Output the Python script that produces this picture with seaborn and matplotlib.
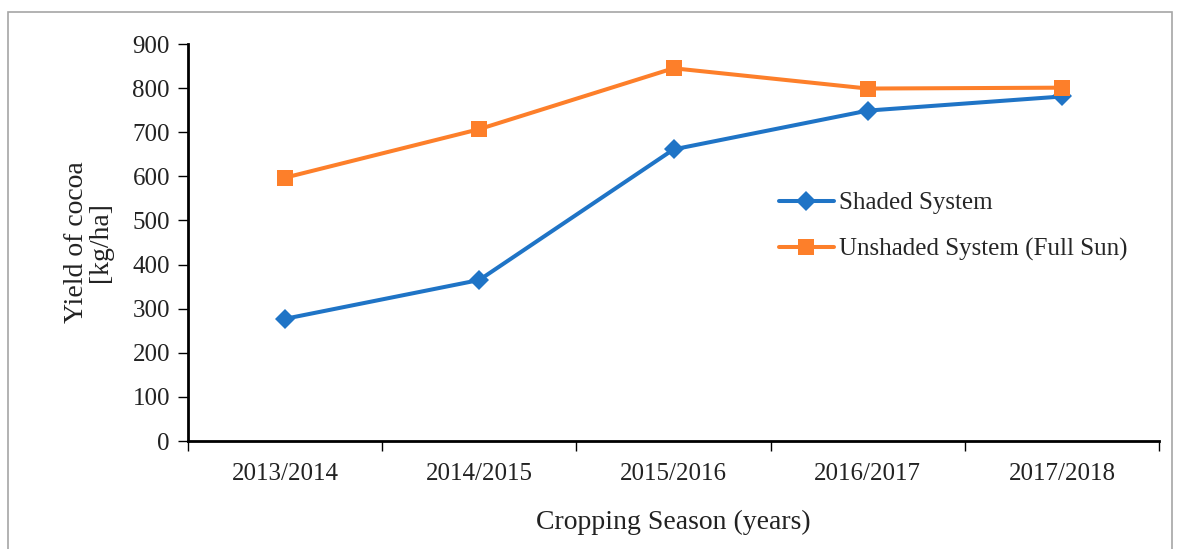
import numpy as np
import pandas as pd
import matplotlib.pyplot as plt
import seaborn as sns
from matplotlib.patches import Rectangle
from matplotlib.ticker import FixedLocator

seasons = ["2013/2014", "2014/2015", "2015/2016", "2016/2017", "2017/2018"]
shaded = [277, 365, 661, 749, 781]
unshaded = [597, 707, 845, 799, 801]
series = ["Shaded System", "Unshaded System (Full Sun)"]

df = pd.DataFrame({
    "season": seasons * 2,
    "yield": shaded + unshaded,
    "system": [series[0]] * 5 + [series[1]] * 5,
})

sns.set_style("white")
plt.rcParams['font.family'] = ['Liberation Serif', 'DejaVu Serif']

fig = plt.figure(figsize=(11.79, 5.49), dpi=100)
ax = fig.add_axes([188 / 1179, 1 - 441 / 549, (1159 - 188) / 1179, (441 - 44) / 549])

sns.lineplot(data=df, x="season", y="yield", hue="system", style="system",
             palette=["#1f74c6", "#fd7f2a"], markers=["D", "s"], dashes=False,
             markersize=10, linewidth=2.9, markeredgewidth=0, ax=ax)
# square a bit bigger than the diamond
for line in ax.get_lines():
    if line.get_marker() == "s":
        line.set_markersize(11.5)

ax.set_xlim(-0.5, 4.5)
ax.set_ylim(0, 900)
ax.set_yticks(np.arange(0, 901, 100))
ax.set_xticks(range(5))
ax.set_xticklabels(seasons)
ax.xaxis.set_minor_locator(FixedLocator(np.arange(-0.5, 4.6, 1)))
ax.tick_params(axis="x", which="major", bottom=True, length=0, pad=16, labelsize=18,
               colors="#222222")
ax.tick_params(axis="x", which="minor", bottom=True, length=7, width=1.0, color="black",
               direction="out")
ax.tick_params(axis="y", left=True, length=7, width=1.0, color="black", direction="out",
               labelsize=18, labelcolor="#222222", pad=6)

for s in ["top", "right"]:
    ax.spines[s].set_visible(False)
for s in ["left", "bottom"]:
    ax.spines[s].set_color("black")
    ax.spines[s].set_linewidth(2)

ax.set_xlabel("Cropping Season (years)", fontsize=20, labelpad=18, color="#222222")
ax.set_ylabel("Yield of cocoa\n[kg/ha]", fontsize=20, labelpad=14, color="#222222",
              linespacing=0.95)

leg = ax.legend(loc="center left", bbox_to_anchor=(0.585, 0.54), frameon=False, fontsize=18,
                handlelength=2.2, handletextpad=0.2, labelspacing=0.95)
for h in leg.legend_handles:
    h.set_linewidth(2.9)

fig.patches.append(Rectangle((8 / 1179, -0.05), (1172 - 8) / 1179, 1.05 - 12 / 549,
                             transform=fig.transFigure, fill=False, edgecolor="#a6a6a6",
                             linewidth=1.2, clip_on=False))

fig.savefig("out.png", dpi=100)
